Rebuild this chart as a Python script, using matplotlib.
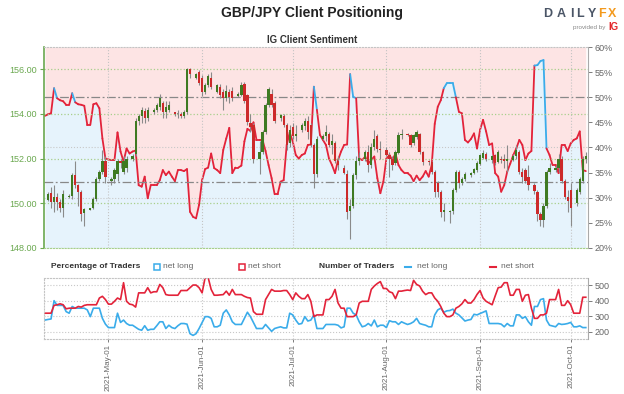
import matplotlib
matplotlib.use('Agg')
import matplotlib.pyplot as plt
import matplotlib.dates as mdates
from matplotlib.lines import Line2D
import pandas as pd

plt.rcParams['font.family'] = ['Liberation Sans', 'DejaVu Sans']

# GBP/JPY daily candles (Sunday..Friday sessions)
candle_days = [d for d in pd.date_range('2021-04-11', '2021-10-06') if d.dayofweek != 5]
opens = [150.15, 150.45, 150.05, 150.3, 150.05, 149.8,
         150.3, 150.35, 151.25, 150.8, 150.5, 149.55,
         149.7, 149.8, 150.2, 151.1, 151.4, 151.9,
         151.0, 151.1, 151.3, 151.9, 151.4, 151.6,
         152.0, 152.2, 153.7, 153.9, 154.15, 153.8,
         154.1, 154.2, 154.3, 154.5, 154.1, 154.2,
         154.1, 154.0, 154.0, 153.9, 154.1, 156.0,
         155.6, 155.9, 155.6, 155.0, 155.3, 155.6,
         155.0, 155.2, 155.0, 154.7, 155.0, 155.05,
         154.8, 154.85, 155.35, 154.85, 153.6, 153.5,
         152.0, 152.3, 153.2, 154.4, 154.9, 154.5,
         153.8, 153.9, 153.5, 152.7, 153.4, 153.0,
         153.3, 153.45, 153.7, 153.5, 152.6, 151.3,
         152.9, 153.0, 153.1, 152.6, 152.7, 151.9,
         151.6, 151.3, 149.65, 149.9, 151.25, 151.9,
         152.0, 152.3, 151.7, 152.5, 153.0, 152.45,
         152.4, 152.15, 152.0, 151.8, 152.25, 153.05,
         153.1, 153.05, 152.7, 152.95, 153.1, 152.3,
         151.9, 151.85, 151.4, 150.9, 150.5, 149.6,
         149.6, 149.65, 150.6, 151.4, 150.9, 151.1,
         151.25, 151.35, 151.5, 151.75, 152.05, 152.2,
         151.95, 152.15, 151.85, 152.0, 152.0, 151.9,
         151.95, 152.1, 152.3, 151.4, 151.5, 151.2,
         150.8, 150.5, 149.5, 149.25, 149.9, 151.4,
         151.5, 151.6, 152.0, 151.0, 150.3, 150.6,
         150.0, 150.5, 151.0, 152.0]
highs = [150.5, 150.75, 150.8, 150.45, 150.2, 150.6,
         150.4, 151.35, 151.9, 150.85, 150.6, 149.8,
         149.8, 150.3, 151.2, 151.5, 152.4, 152.1,
         151.2, 151.6, 152.0, 152.0, 152.1, 152.1,
         152.2, 153.8, 154.0, 154.3, 154.25, 154.3,
         154.25, 154.5, 154.9, 154.6, 154.6, 154.6,
         154.1, 154.2, 154.1, 154.2, 156.05, 156.05,
         155.85, 155.95, 155.75, 155.4, 155.8, 155.9,
         155.35, 155.35, 155.1, 155.3, 155.1, 155.2,
         155.0, 155.45, 155.45, 154.9, 154.0, 153.6,
         152.8, 153.3, 154.5, 155.2, 155.1, 154.6,
         154.0, 154.0, 153.6, 153.5, 153.6, 153.5,
         153.6, 153.8, 153.9, 153.6, 152.7, 153.0,
         153.1, 153.5, 153.2, 153.1, 152.8, 152.1,
         151.7, 151.5, 150.2, 151.35, 152.1, 152.3,
         152.4, 152.6, 152.7, 153.3, 153.1, 152.8,
         152.5, 152.3, 152.1, 152.4, 153.2, 153.35,
         153.15, 153.1, 153.1, 153.3, 153.15, 152.35,
         151.95, 151.9, 151.5, 151.0, 150.6, 150.0,
         149.7, 150.7, 151.5, 151.5, 151.2, 151.4,
         151.4, 151.6, 151.9, 152.2, 152.4, 152.3,
         152.15, 152.2, 152.4, 152.1, 152.2, 152.6,
         152.2, 152.6, 152.4, 151.6, 151.6, 151.7,
         150.9, 150.6, 149.6, 150.0, 151.5, 151.8,
         151.7, 152.2, 152.1, 151.1, 150.6, 150.9,
         150.7, 151.2, 152.1, 152.3]
lows = [150.1, 149.8, 149.6, 149.7, 149.6, 149.4,
        150.25, 150.2, 150.7, 149.9, 149.2, 149.0,
        149.7, 149.75, 150.1, 151.0, 151.3, 150.9,
        150.8, 150.9, 151.0, 151.6, 151.3, 151.4,
        151.9, 152.1, 153.5, 153.6, 153.6, 153.7,
        154.0, 154.1, 154.2, 153.8, 153.8, 154.1,
        153.9, 153.8, 153.8, 153.8, 154.0, 155.6,
        155.55, 155.3, 154.8, 154.9, 155.2, 155.1,
        154.95, 154.7, 154.2, 154.6, 154.5, 154.6,
        154.75, 154.8, 154.5, 153.5, 153.2, 151.8,
        151.3, 152.2, 153.1, 154.3, 154.3, 153.6,
        153.7, 153.4, 152.4, 152.5, 152.9, 152.8,
        153.2, 153.3, 152.9, 152.5, 150.7, 151.2,
        152.85, 152.8, 152.5, 152.2, 151.8, 151.5,
        151.3, 149.3, 148.4, 149.8, 151.1, 151.7,
        151.9, 151.4, 151.6, 152.4, 152.3, 152.0,
        152.1, 151.2, 151.5, 151.7, 152.2, 152.9,
        153.0, 152.5, 152.6, 152.9, 152.2, 151.7,
        151.7, 151.3, 150.3, 150.3, 149.4, 149.2,
        149.1, 149.5, 150.5, 150.7, 150.8, 151.0,
        151.2, 151.3, 151.4, 151.7, 152.0, 151.9,
        151.8, 151.7, 151.8, 151.8, 151.6, 151.4,
        151.9, 152.0, 151.3, 150.9, 150.9, 150.6,
        150.4, 149.2, 149.0, 148.95, 149.8, 151.3,
        151.4, 151.4, 150.9, 150.2, 149.6, 149.0,
        149.9, 150.4, 150.9, 151.8]
closes = [150.4, 150.05, 150.3, 150.05, 149.8, 150.4,
          150.35, 151.25, 150.8, 150.5, 149.5, 149.75,
          149.8, 150.2, 151.1, 151.4, 151.9, 151.2,
          151.1, 151.5, 151.9, 151.8, 151.9, 152.0,
          152.1, 153.7, 153.9, 154.2, 153.8, 154.2,
          154.2, 154.4, 154.7, 154.1, 154.3, 154.4,
          154.0, 154.0, 153.9, 154.1, 156.0, 155.8,
          155.8, 155.4, 155.0, 155.3, 155.7, 155.2,
          155.3, 154.85, 154.7, 155.05, 154.75, 154.7,
          154.9, 155.3, 154.6, 153.65, 153.4, 152.0,
          152.3, 153.2, 154.4, 155.1, 154.4, 153.7,
          153.95, 153.5, 152.6, 153.3, 153.0, 153.1,
          153.5, 153.7, 153.2, 152.6, 151.3, 152.9,
          153.0, 153.2, 152.6, 152.8, 151.9, 151.7,
          151.35, 149.6, 149.9, 151.25, 151.9, 152.05,
          152.3, 151.7, 152.5, 152.9, 152.45, 152.4,
          152.15, 152.0, 151.7, 152.3, 153.05, 153.1,
          153.05, 152.6, 153.05, 153.2, 152.3, 151.85,
          151.85, 151.4, 150.5, 150.5, 149.6, 149.7,
          149.65, 150.6, 151.4, 150.9, 151.1, 151.3,
          151.35, 151.55, 151.8, 152.15, 152.25, 152.0,
          152.1, 151.8, 152.3, 151.95, 151.9, 152.0,
          152.1, 152.4, 151.4, 151.2, 151.0, 150.8,
          150.55, 149.5, 149.25, 149.9, 151.4, 151.6,
          151.6, 152.0, 151.0, 150.3, 150.1, 149.8,
          150.6, 151.1, 152.0, 152.1]

# IG client sentiment, one reading per day
sent_days = pd.date_range('2021-04-10', '2021-10-06')
net_long_pct = [46.3, 46.6, 46.8, 51.8, 49.8, 49.4, 49.2, 48.5, 48.5, 50.8,
                49.0, 48.6, 48.5, 48.3, 44.5, 44.5, 48.6, 48.8, 47.8, 41.8,
                37.8, 37.6, 37.5, 37.5, 43.0, 39.2, 37.2, 39.8, 38.8, 39.2,
                39.4, 32.5, 32.2, 34.2, 29.9, 32.5, 32.5, 32.5, 33.5, 35.5,
                34.5, 35.2, 34.2, 33.3, 35.5, 35.5, 35.3, 35.7, 27.2, 26.2,
                25.9, 28.6, 33.5, 35.7, 36.0, 38.8, 35.9, 35.5, 34.9, 39.5,
                41.8, 43.9, 34.9, 36.0, 36.0, 36.4, 41.2, 43.7, 43.3, 45.0,
                41.5, 41.5, 41.5, 39.3, 36.5, 33.9, 30.7, 30.7, 33.2, 33.5,
                40.5, 43.0, 41.2, 38.5, 37.8, 38.5, 38.8, 40.5, 40.6, 52.1,
                47.5, 42.5, 41.5, 40.5, 37.8, 36.5, 34.9, 37.5, 39.2, 40.5,
                40.6, 54.6, 50.1, 49.8, 37.8, 37.5, 38.2, 36.8, 37.5, 38.2,
                33.9, 30.9, 33.2, 37.8, 38.5, 37.5, 38.8, 36.5, 35.5, 34.9,
                34.9, 34.4, 33.3, 34.4, 33.5, 34.2, 35.3, 34.2, 36.5, 44.7,
                48.1, 49.4, 51.8, 52.8, 52.8, 52.8, 50.0, 47.1, 46.8, 41.5,
                41.0, 41.7, 42.8, 39.8, 43.5, 45.5, 43.2, 40.5, 40.8, 34.9,
                34.2, 31.2, 32.5, 35.2, 36.8, 38.5, 39.8, 41.5, 40.5, 37.5,
                38.8, 39.3, 56.3, 56.4, 57.2, 57.4, 39.8, 38.5, 36.5, 36.5,
                34.9, 40.5, 40.5, 39.3, 40.8, 41.5, 41.8, 43.2, 35.5, 35.3]
long_traders = [276, 280, 283, 400, 370, 370, 370, 330, 320, 363,
                352, 352, 352, 352, 341, 298, 352, 352, 352, 287,
                250, 228, 228, 228, 320, 261, 276, 254, 243, 243,
                230, 217, 211, 240, 211, 217, 217, 240, 265, 265,
                222, 243, 228, 222, 240, 254, 254, 250, 189, 178,
                189, 222, 260, 298, 298, 287, 233, 233, 243, 320,
                341, 309, 265, 248, 248, 248, 287, 326, 298, 260,
                222, 222, 222, 248, 226, 204, 222, 228, 233, 226,
                226, 320, 309, 276, 250, 254, 298, 270, 276, 309,
                222, 222, 222, 248, 248, 248, 248, 243, 226, 233,
                352, 352, 320, 309, 265, 233, 239, 254, 239, 276,
                233, 243, 243, 228, 272, 265, 265, 248, 265, 256,
                248, 254, 265, 287, 254, 248, 243, 233, 233, 309,
                341, 352, 326, 335, 337, 346, 320, 309, 290, 270,
                276, 280, 313, 309, 318, 326, 335, 254, 254, 254,
                254, 250, 233, 254, 239, 239, 309, 309, 287, 298,
                265, 243, 363, 363, 407, 413, 276, 243, 238, 233,
                254, 248, 250, 254, 261, 233, 233, 239, 228, 228]
short_traders = [320, 320, 320, 370, 374, 380, 374, 348, 352, 352,
                 352, 363, 359, 370, 374, 374, 374, 374, 417, 428,
                 407, 378, 378, 396, 417, 407, 515, 396, 378, 374,
                 359, 450, 450, 450, 483, 450, 457, 457, 504, 483,
                 439, 435, 435, 435, 435, 465, 465, 465, 483, 500,
                 500, 483, 450, 548, 548, 472, 435, 435, 437, 439,
                 461, 435, 472, 439, 439, 439, 428, 420, 417, 330,
                 313, 313, 313, 407, 440, 472, 461, 461, 461, 465,
                 465, 439, 407, 450, 428, 413, 413, 439, 396, 298,
                 309, 309, 309, 407, 407, 428, 472, 385, 352, 352,
                 298, 298, 298, 309, 385, 396, 396, 396, 472, 494,
                 510, 522, 478, 478, 457, 450, 413, 461, 461, 465,
                 468, 465, 530, 504, 494, 460, 439, 450, 450, 417,
                 396, 363, 320, 298, 298, 309, 352, 363, 380, 407,
                 385, 385, 407, 440, 465, 417, 396, 385, 374, 430,
                 483, 487, 515, 515, 435, 435, 472, 472, 396, 435,
                 439, 352, 287, 287, 309, 309, 320, 407, 407, 407,
                 472, 370, 370, 400, 374, 320, 320, 320, 422, 422]

price_ticks = [148, 150, 152, 154, 156]
pct_ticks = [20, 25, 30, 35, 40, 45, 50, 55, 60]
count_ticks = [200, 300, 400, 500]
ref_price = 150.95

RED = '#e3233a'
BLUE = '#3aacea'
UP = '#3f7a22'
DOWN = '#cc2a2a'
WICK = '#8a8a8a'
GREEN_AX = '#6aa84f'
GREY_TXT = '#666666'

fig = plt.figure(figsize=(6.24, 3.94), dpi=100)
fig.patch.set_facecolor('white')

# ---- main panel
ax = fig.add_axes([0.0705, 0.3706, 0.8715, 0.5101])
ax2 = ax.twinx()
ax.set_zorder(ax2.get_zorder() + 1)
ax.patch.set_visible(False)
ax2.set_facecolor('#e6f3fc')

ax2.fill_between(sent_days, net_long_pct, 60, color='#fde4e4', lw=0)
ax2.fill_between(sent_days, 20, net_long_pct, color='#e6f3fc', lw=0)
for i in range(len(net_long_pct) - 1):
    c = BLUE if net_long_pct[i] > 50 else RED
    ax2.plot(sent_days[i:i + 2], net_long_pct[i:i + 2], color=c, lw=1.3,
             solid_capstyle='round', zorder=3)
for lvl in [30, 40]:
    ax2.axhline(lvl, color='#c8c8c8', ls=':', lw=0.8, zorder=1)
ax2.axhline(50, color='#888888', ls=(0, (7, 2, 1.5, 2)), lw=0.9, zorder=2)
ax2.set_ylim(20, 60)
ax2.set_yticks(pct_ticks)
ax2.yaxis.set_major_formatter('{x:.0f}%')
ax2.tick_params(axis='y', labelsize=6.5, colors=GREY_TXT, length=3, width=0.6, pad=2)
for s in ['top', 'left', 'bottom']:
    ax2.spines[s].set_visible(False)
ax2.spines['right'].set_color('#aaaaaa')

# candles
for d, o, h, l, c in zip(candle_days, opens, highs, lows, closes):
    ax.vlines(d, l, h, color=WICK, lw=0.8, zorder=3)
    if abs(c - o) < 0.03:
        col = WICK
    else:
        col = UP if c > o else DOWN
    ax.bar(d, max(abs(c - o), 0.03), bottom=min(o, c), width=0.75, color=col,
           lw=0, zorder=4)
ax.axhline(ref_price, color='#888888', ls=(0, (7, 2, 1.5, 2)), lw=0.9, zorder=2)

ax.set_ylim(148, 157)
ax.set_yticks(price_ticks)
ax.yaxis.set_major_formatter('{x:.2f}')
ax.set_xlim(pd.Timestamp('2021-04-09 16:00'), pd.Timestamp('2021-10-06 16:00'))
ax.xaxis.set_major_locator(mdates.MonthLocator())
ax.tick_params(axis='x', length=0, labelbottom=False)
ax.tick_params(axis='y', labelsize=6.5, colors=GREEN_AX, length=3, width=0.8, pad=2)
ax.set_axisbelow(True)
ax.yaxis.grid(True, color='#a8cf8c', ls=':', lw=0.9)
ax.xaxis.grid(True, color='#c4c4c4', ls=':', lw=0.8)
ax.spines['left'].set_color(GREEN_AX)
ax.spines['left'].set_linewidth(1.2)
ax.spines['right'].set_visible(False)
ax.spines['top'].set_color('#c4c4c4')
ax.spines['top'].set_linestyle(':')
ax.spines['bottom'].set_color('#a8cf8c')
ax.spines['bottom'].set_linestyle(':')

# ---- trader count panel
axb = fig.add_axes([0.0705, 0.1396, 0.8715, 0.1548])
axb.plot(sent_days, long_traders, color=BLUE, lw=1.2)
axb.plot(sent_days, short_traders, color=RED, lw=1.2)
axb.set_xlim(ax.get_xlim())
axb.set_ylim(155, 545)
axb.set_yticks(count_ticks)
axb.yaxis.tick_right()
axb.tick_params(axis='y', labelsize=6.5, colors=GREY_TXT, length=3, width=0.6, pad=2)
axb.xaxis.set_major_locator(mdates.MonthLocator())
axb.xaxis.set_major_formatter(mdates.DateFormatter('%Y-%b-%d'))
axb.tick_params(axis='x', labelsize=5.8, colors=GREY_TXT, length=2, width=0.6,
                labelrotation=90, pad=1.5)
axb.grid(True, color='#c8c8c8', ls=':', lw=0.8)
for s in ['top', 'left', 'bottom']:
    axb.spines[s].set_color('#c4c4c4')
    axb.spines[s].set_linestyle(':')
axb.spines['right'].set_color('#aaaaaa')

# ---- titles and logo
fig.text(0.5, 1 - 13 / 394, 'GBP/JPY Client Positioning', ha='center', va='center',
         fontsize=10, fontweight='bold', color='#222222')
fig.text(0.5, 1 - 40 / 394, 'IG Client Sentiment', ha='center', va='center',
         fontsize=7, fontweight='bold', color='#333333')
for ch, px in zip('DAILY', [548, 561, 572, 580, 592]):
    fig.text(px / 624, 1 - 14 / 394, ch, ha='center', va='center', fontsize=9,
             fontweight='bold', color='#4a5566')
for ch, px in zip('FX', [602, 612]):
    fig.text(px / 624, 1 - 14 / 394, ch, ha='center', va='center', fontsize=9,
             fontweight='bold', color='#f39a1e')
fig.text(605 / 624, 1 - 27 / 394, 'provided by', ha='right', va='center', fontsize=4.5,
         color='#888888')
fig.text(608 / 624, 1 - 27 / 394, 'IG', ha='left', va='center', fontsize=7,
         fontweight='bold', color='#e3262b')

# ---- legend row
ly = 1 - 267 / 394
fig.text(51 / 624, ly, 'Percentage of Traders', ha='left', va='center', fontsize=6,
         fontweight='bold', color='#333333')
fig.add_artist(Line2D([157 / 624], [ly], marker='s', ms=5, mfc='white', mec=BLUE,
                      mew=1.1, transform=fig.transFigure))
fig.text(163 / 624, ly, 'net long', ha='left', va='center', fontsize=6, color=GREY_TXT)
fig.add_artist(Line2D([242 / 624], [ly], marker='s', ms=5, mfc='white', mec=RED,
                      mew=1.1, transform=fig.transFigure))
fig.text(248 / 624, ly, 'net short', ha='left', va='center', fontsize=6, color=GREY_TXT)
fig.text(319 / 624, ly, 'Number of Traders', ha='left', va='center', fontsize=6,
         fontweight='bold', color='#333333')
fig.add_artist(Line2D([405 / 624, 411 / 624], [ly, ly], color=BLUE, lw=1.5,
                      transform=fig.transFigure))
fig.text(417 / 624, ly, 'net long', ha='left', va='center', fontsize=6, color=GREY_TXT)
fig.add_artist(Line2D([490 / 624, 496 / 624], [ly, ly], color=RED, lw=1.5,
                      transform=fig.transFigure))
fig.text(501 / 624, ly, 'net short', ha='left', va='center', fontsize=6, color=GREY_TXT)

fig.savefig('out.png', dpi=100)
